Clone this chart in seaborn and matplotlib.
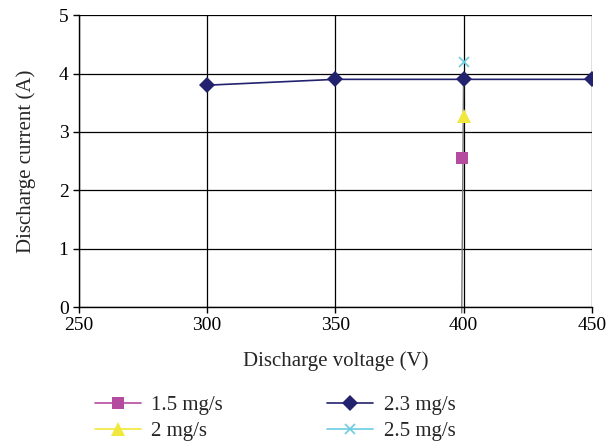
import matplotlib
matplotlib.use('Agg')
import matplotlib.pyplot as plt
import seaborn as sns
import pandas as pd

# data
voltage_23 = [300, 350, 400, 450]
current_23 = [3.8, 3.9, 3.9, 3.9]
voltage_15 = [399.3]
current_15 = [2.55]
voltage_2 = [400]
current_2 = [3.28]
voltage_25 = [400]
current_25 = [4.2]
# thin grey line running up at 400 V
guide_v = [399.3, 400]
guide_i = [-0.1, 3.9]

sns.set_style('white')
plt.rcParams['font.family'] = ['Liberation Serif', 'DejaVu Serif']

fig = plt.figure(figsize=(6.1, 4.45), dpi=100)
ax = fig.add_axes([0.1295, 0.31, 0.8405, 0.656])

ax.plot(guide_v, guide_i, color='#777777', lw=1.0, zorder=2, clip_on=False)

df23 = pd.DataFrame({'V': voltage_23, 'I': current_23})
sns.lineplot(data=df23, x='V', y='I', ax=ax, color='#22226e', lw=1.2,
             marker='D', markersize=8, markeredgewidth=0, zorder=4,
             label='2.3 mg/s')

ax.plot(voltage_15, current_15, color='#b44b9f', marker='s', markersize=9,
        markeredgewidth=0, lw=1.2, linestyle='-', zorder=5, label='1.5 mg/s')
ax.plot(voltage_2, current_2, color='#f0e83c', marker='^', markersize=10,
        markeredgewidth=0, lw=1.2, linestyle='-', zorder=5, label='2 mg/s')
ax.plot(voltage_25, current_25, color='#6ccde0', marker='x', markersize=7,
        markeredgewidth=1.2, lw=1.2, linestyle='-', zorder=5, label='2.5 mg/s')

ax.set_xlim(250, 450)
ax.set_ylim(0, 5)
ax.set_xticks([250, 300, 350, 400, 450])
ax.set_yticks([0, 1, 2, 3, 4, 5])
ax.grid(True, color='black', lw=0.9)
ax.set_axisbelow(True)
for s in ['top', 'right']:
    ax.spines[s].set_visible(False)
for s in ['left', 'bottom']:
    ax.spines[s].set_color('black')
    ax.spines[s].set_linewidth(1.0)
ax.tick_params(axis='both', direction='out', length=4, width=1.0,
               colors='black', labelsize=14, left=True, bottom=True)
ax.set_xlabel('Discharge voltage (V)', fontsize=15, labelpad=12)
ax.set_ylabel('Discharge current (A)', fontsize=15, labelpad=16)

handles, labels = ax.get_legend_handles_labels()
order = [labels.index(l) for l in ['1.5 mg/s', '2 mg/s', '2.3 mg/s', '2.5 mg/s']]
leg = ax.legend([handles[i] for i in order], [labels[i] for i in order],
                ncol=2, loc='upper left', bbox_to_anchor=(-0.005, -0.24),
                frameon=False, fontsize=15, handlelength=2.2,
                columnspacing=5.0, labelspacing=0.3, handletextpad=0.5)

fig.savefig('out.png', dpi=100)
